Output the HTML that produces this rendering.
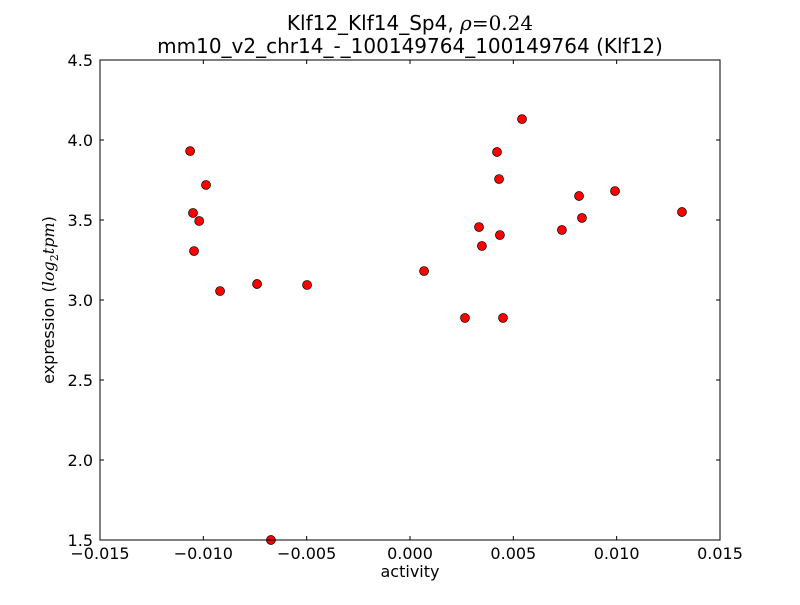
<!DOCTYPE html>
<html><head><meta charset="utf-8"><style>
body{margin:0;background:#fff;}
svg text{font-family:"DejaVu Sans","Liberation Sans",sans-serif;}
</style></head><body>
<svg id="chart" width="800" height="600">
<rect width="800" height="600" fill="#fff"/>
<text x="410" y="30" text-anchor="middle" font-size="20">Klf12_Klf14_Sp4, <tspan font-family="DejaVu Serif" font-style="italic">ρ</tspan><tspan font-family="DejaVu Serif">=0.24</tspan></text>
<text x="410" y="53" text-anchor="middle" font-size="20">mm10_v2_chr14_-_100149764_100149764 (Klf12)</text>
<g id="axes"></g>
<g id="points"></g>
<rect x="100" y="60" width="620" height="480" fill="none" stroke="#000" stroke-width="1"/>
<text x="410" y="577" text-anchor="middle" font-size="16">activity</text>
<text transform="translate(54,300) rotate(-90)" text-anchor="middle" font-size="16">expression (<tspan font-family="DejaVu Serif" font-style="italic">log</tspan><tspan font-family="DejaVu Serif" font-size="11" dy="4">2</tspan><tspan font-family="DejaVu Serif" font-style="italic" dy="-4">tpm</tspan>)</text>
</svg>
<script>
const xVals=[-0.01064,-0.0105,-0.0102,-0.00987,-0.01045,-0.00919,-0.0074,-0.00498,-0.00673,0.00068,0.00266,0.00421,0.00431,0.00334,0.00348,0.00435,0.0045,0.00542,0.00735,0.00818,0.00832,0.00992,0.01316];
const yVals=[3.931,3.544,3.494,3.719,3.306,3.056,3.1,3.094,1.5,3.181,2.888,3.925,3.756,3.456,3.338,3.406,2.888,4.131,3.438,3.65,3.513,3.681,3.55];
const xTicks=[-0.015,-0.01,-0.005,0,0.005,0.01,0.015];
const xTickLabels=["\u22120.015","\u22120.010","\u22120.005","0.000","0.005","0.010","0.015"];
const yTicks=[1.5,2.0,2.5,3.0,3.5,4.0,4.5];
const yTickLabels=["1.5","2.0","2.5","3.0","3.5","4.0","4.5"];
const NS="http://www.w3.org/2000/svg";
const xs=v=>100+(v+0.015)/0.03*620;
const ys=v=>540-(v-1.5)/3*480;
const axes=document.getElementById('axes'),pts=document.getElementById('points');
function mk(t,a,p){const e=document.createElementNS(NS,t);for(const k in a)e.setAttribute(k,a[k]);p.appendChild(e);return e;}
xTicks.forEach((v,i)=>{const x=xs(v);
const t1=mk('line',{x1:x,x2:x,y1:540,y2:536,stroke:'#000'},axes);


const t2=mk('line',{x1:x,x2:x,y1:60,y2:64,stroke:'#000'},axes);


const l=mk('text',{x:x,y:559,'text-anchor':'middle','font-size':16},axes);l.textContent=xTickLabels[i];


});
yTicks.forEach((v,i)=>{const y=ys(v);
const t1=mk('line',{x1:100,x2:104,y1:y,y2:y,stroke:'#000'},axes);


const t2=mk('line',{x1:716,x2:720,y1:y,y2:y,stroke:'#000'},axes);


const l=mk('text',{x:93,y:y+6,'text-anchor':'end','font-size':16},axes);l.textContent=yTickLabels[i];


});
xVals.forEach((v,i)=>{
const c=mk('circle',{cx:xs(v),cy:ys(yVals[i]),r:4.5,fill:'#ff0000',stroke:'#000','stroke-width':0.7},pts);


});
</script>
</body></html>
